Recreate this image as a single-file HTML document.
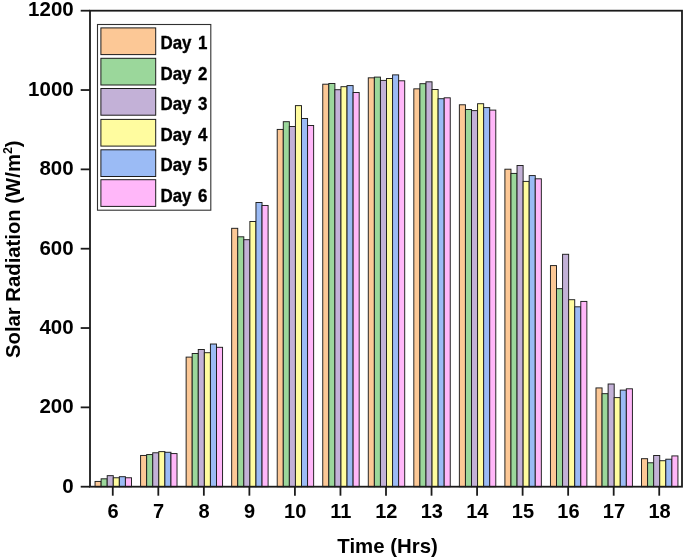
<!DOCTYPE html>
<html><head><meta charset="utf-8"><title>Solar Radiation</title>
<style>html,body{margin:0;padding:0;background:#fff}svg{display:block}text{font-family:"Liberation Sans",Arial,sans-serif;font-weight:bold;fill:#000}</style></head><body>
<svg width="685" height="559" viewBox="0 0 685 559">
<rect width="685" height="559" fill="#fff"/>
<g stroke="#1c1c1c" stroke-width="0.95">
<rect x="95.05" y="481.42" width="6.07" height="5.28" fill="#FCC896"/>
<rect x="101.13" y="478.81" width="6.07" height="7.89" fill="#9BD79B"/>
<rect x="107.20" y="475.67" width="6.07" height="11.03" fill="#C3B1D7"/>
<rect x="113.27" y="477.77" width="6.07" height="8.93" fill="#FFFC9F"/>
<rect x="119.34" y="476.70" width="6.07" height="10.00" fill="#9BBBF5"/>
<rect x="125.41" y="477.77" width="6.07" height="8.93" fill="#FFB7F9"/>
<rect x="140.59" y="455.44" width="6.07" height="31.26" fill="#FCC896"/>
<rect x="146.66" y="454.57" width="6.07" height="32.13" fill="#9BD79B"/>
<rect x="152.74" y="452.78" width="6.07" height="33.92" fill="#C3B1D7"/>
<rect x="158.81" y="451.63" width="6.07" height="35.07" fill="#FFFC9F"/>
<rect x="164.88" y="452.27" width="6.07" height="34.43" fill="#9BBBF5"/>
<rect x="170.95" y="453.58" width="6.07" height="33.12" fill="#FFB7F9"/>
<rect x="186.13" y="357.11" width="6.07" height="129.59" fill="#FCC896"/>
<rect x="192.20" y="353.50" width="6.07" height="133.20" fill="#9BD79B"/>
<rect x="198.27" y="349.49" width="6.07" height="137.21" fill="#C3B1D7"/>
<rect x="204.35" y="352.71" width="6.07" height="133.99" fill="#FFFC9F"/>
<rect x="210.42" y="344.02" width="6.07" height="142.68" fill="#9BBBF5"/>
<rect x="216.49" y="347.31" width="6.07" height="139.39" fill="#FFB7F9"/>
<rect x="231.67" y="228.31" width="6.07" height="258.39" fill="#FCC896"/>
<rect x="237.74" y="236.80" width="6.07" height="249.90" fill="#9BD79B"/>
<rect x="243.81" y="239.70" width="6.07" height="247.00" fill="#C3B1D7"/>
<rect x="249.88" y="221.49" width="6.07" height="265.21" fill="#FFFC9F"/>
<rect x="255.96" y="202.49" width="6.07" height="284.21" fill="#9BBBF5"/>
<rect x="262.03" y="205.46" width="6.07" height="281.24" fill="#FFB7F9"/>
<rect x="277.21" y="129.42" width="6.07" height="357.28" fill="#FCC896"/>
<rect x="283.28" y="121.69" width="6.07" height="365.01" fill="#9BD79B"/>
<rect x="289.35" y="126.53" width="6.07" height="360.17" fill="#C3B1D7"/>
<rect x="295.42" y="105.62" width="6.07" height="381.08" fill="#FFFC9F"/>
<rect x="301.49" y="118.51" width="6.07" height="368.19" fill="#9BBBF5"/>
<rect x="307.57" y="125.50" width="6.07" height="361.20" fill="#FFB7F9"/>
<rect x="322.75" y="84.20" width="6.07" height="402.50" fill="#FCC896"/>
<rect x="328.82" y="83.49" width="6.07" height="403.21" fill="#9BD79B"/>
<rect x="334.89" y="89.72" width="6.07" height="396.98" fill="#C3B1D7"/>
<rect x="340.96" y="86.70" width="6.07" height="400.00" fill="#FFFC9F"/>
<rect x="347.03" y="85.59" width="6.07" height="401.11" fill="#9BBBF5"/>
<rect x="353.11" y="92.49" width="6.07" height="394.21" fill="#FFB7F9"/>
<rect x="368.28" y="77.82" width="6.07" height="408.88" fill="#FCC896"/>
<rect x="374.36" y="77.10" width="6.07" height="409.60" fill="#9BD79B"/>
<rect x="380.43" y="80.39" width="6.07" height="406.31" fill="#C3B1D7"/>
<rect x="386.50" y="78.53" width="6.07" height="408.17" fill="#FFFC9F"/>
<rect x="392.57" y="74.88" width="6.07" height="411.82" fill="#9BBBF5"/>
<rect x="398.64" y="80.79" width="6.07" height="405.91" fill="#FFB7F9"/>
<rect x="413.82" y="88.84" width="6.07" height="397.86" fill="#FCC896"/>
<rect x="419.89" y="83.69" width="6.07" height="403.01" fill="#9BD79B"/>
<rect x="425.97" y="81.82" width="6.07" height="404.88" fill="#C3B1D7"/>
<rect x="432.04" y="89.52" width="6.07" height="397.18" fill="#FFFC9F"/>
<rect x="438.11" y="98.72" width="6.07" height="387.98" fill="#9BBBF5"/>
<rect x="444.18" y="97.81" width="6.07" height="388.89" fill="#FFB7F9"/>
<rect x="459.36" y="104.79" width="6.07" height="381.91" fill="#FCC896"/>
<rect x="465.43" y="109.51" width="6.07" height="377.19" fill="#9BD79B"/>
<rect x="471.51" y="110.62" width="6.07" height="376.08" fill="#C3B1D7"/>
<rect x="477.58" y="103.72" width="6.07" height="382.98" fill="#FFFC9F"/>
<rect x="483.65" y="107.61" width="6.07" height="379.09" fill="#9BBBF5"/>
<rect x="489.72" y="110.10" width="6.07" height="376.60" fill="#FFB7F9"/>
<rect x="504.90" y="169.21" width="6.07" height="317.49" fill="#FCC896"/>
<rect x="510.97" y="173.41" width="6.07" height="313.29" fill="#9BD79B"/>
<rect x="517.04" y="165.52" width="6.07" height="321.18" fill="#C3B1D7"/>
<rect x="523.12" y="181.39" width="6.07" height="305.31" fill="#FFFC9F"/>
<rect x="529.19" y="175.59" width="6.07" height="311.11" fill="#9BBBF5"/>
<rect x="535.26" y="178.81" width="6.07" height="307.89" fill="#FFB7F9"/>
<rect x="550.44" y="265.60" width="6.07" height="221.10" fill="#FCC896"/>
<rect x="556.51" y="288.68" width="6.07" height="198.02" fill="#9BD79B"/>
<rect x="562.58" y="254.29" width="6.07" height="232.41" fill="#C3B1D7"/>
<rect x="568.65" y="299.71" width="6.07" height="186.99" fill="#FFFC9F"/>
<rect x="574.73" y="306.81" width="6.07" height="179.89" fill="#9BBBF5"/>
<rect x="580.80" y="301.42" width="6.07" height="185.28" fill="#FFB7F9"/>
<rect x="595.98" y="387.93" width="6.07" height="98.77" fill="#FCC896"/>
<rect x="602.05" y="393.68" width="6.07" height="93.02" fill="#9BD79B"/>
<rect x="608.12" y="384.00" width="6.07" height="102.70" fill="#C3B1D7"/>
<rect x="614.19" y="397.61" width="6.07" height="89.09" fill="#FFFC9F"/>
<rect x="620.26" y="390.11" width="6.07" height="96.59" fill="#9BBBF5"/>
<rect x="626.34" y="388.80" width="6.07" height="97.90" fill="#FFB7F9"/>
<rect x="641.52" y="458.70" width="6.07" height="28.00" fill="#FCC896"/>
<rect x="647.59" y="462.78" width="6.07" height="23.92" fill="#9BD79B"/>
<rect x="653.66" y="455.48" width="6.07" height="31.22" fill="#C3B1D7"/>
<rect x="659.73" y="460.72" width="6.07" height="25.98" fill="#FFFC9F"/>
<rect x="665.80" y="459.21" width="6.07" height="27.49" fill="#9BBBF5"/>
<rect x="671.87" y="455.92" width="6.07" height="30.78" fill="#FFB7F9"/>
</g>
<g stroke="#1a1a1a" stroke-width="1.8" fill="none" stroke-linecap="butt">
<rect x="90.0" y="10.7" width="592.0" height="476.0"/>
<line x1="80.7" y1="486.70" x2="90.0" y2="486.70"/>
<line x1="80.7" y1="407.37" x2="90.0" y2="407.37"/>
<line x1="80.7" y1="328.03" x2="90.0" y2="328.03"/>
<line x1="80.7" y1="248.70" x2="90.0" y2="248.70"/>
<line x1="80.7" y1="169.37" x2="90.0" y2="169.37"/>
<line x1="80.7" y1="90.03" x2="90.0" y2="90.03"/>
<line x1="80.7" y1="10.70" x2="90.0" y2="10.70"/>
<line x1="112.77" y1="486.7" x2="112.77" y2="495.7"/>
<line x1="158.31" y1="486.7" x2="158.31" y2="495.7"/>
<line x1="203.85" y1="486.7" x2="203.85" y2="495.7"/>
<line x1="249.38" y1="486.7" x2="249.38" y2="495.7"/>
<line x1="294.92" y1="486.7" x2="294.92" y2="495.7"/>
<line x1="340.46" y1="486.7" x2="340.46" y2="495.7"/>
<line x1="386.00" y1="486.7" x2="386.00" y2="495.7"/>
<line x1="431.54" y1="486.7" x2="431.54" y2="495.7"/>
<line x1="477.08" y1="486.7" x2="477.08" y2="495.7"/>
<line x1="522.62" y1="486.7" x2="522.62" y2="495.7"/>
<line x1="568.15" y1="486.7" x2="568.15" y2="495.7"/>
<line x1="613.69" y1="486.7" x2="613.69" y2="495.7"/>
<line x1="659.23" y1="486.7" x2="659.23" y2="495.7"/>
</g>
<text x="73.7" y="492.80" font-size="20.5" text-anchor="end">0</text>
<text x="73.7" y="413.47" font-size="20.5" text-anchor="end">200</text>
<text x="73.7" y="334.13" font-size="20.5" text-anchor="end">400</text>
<text x="73.7" y="254.80" font-size="20.5" text-anchor="end">600</text>
<text x="73.7" y="175.47" font-size="20.5" text-anchor="end">800</text>
<text x="73.7" y="96.13" font-size="20.5" text-anchor="end">1000</text>
<text x="73.7" y="15.90" font-size="20.5" text-anchor="end">1200</text>
<text x="113.07" y="518.4" font-size="20" text-anchor="middle">6</text>
<text x="158.61" y="518.4" font-size="20" text-anchor="middle">7</text>
<text x="204.15" y="518.4" font-size="20" text-anchor="middle">8</text>
<text x="249.68" y="518.4" font-size="20" text-anchor="middle">9</text>
<text x="295.22" y="518.4" font-size="20" text-anchor="middle">10</text>
<text x="340.76" y="518.4" font-size="20" text-anchor="middle">11</text>
<text x="386.30" y="518.4" font-size="20" text-anchor="middle">12</text>
<text x="431.84" y="518.4" font-size="20" text-anchor="middle">13</text>
<text x="477.38" y="518.4" font-size="20" text-anchor="middle">14</text>
<text x="522.92" y="518.4" font-size="20" text-anchor="middle">15</text>
<text x="568.45" y="518.4" font-size="20" text-anchor="middle">16</text>
<text x="613.99" y="518.4" font-size="20" text-anchor="middle">17</text>
<text x="659.53" y="518.4" font-size="20" text-anchor="middle">18</text>
<text x="387.6" y="552.8" font-size="20.4" text-anchor="middle">Time (Hrs)</text>
<text transform="translate(19.6,249.2) rotate(-90)" font-size="20.3" text-anchor="middle">Solar Radiation (W/m<tspan font-size="12.5" dy="-7.5">2</tspan><tspan dy="7.5">)</tspan></text>
<rect x="97.5" y="24.5" width="113.3" height="185.7" fill="#fff" stroke="#303030" stroke-width="1.1"/>
<rect x="100.9" y="27.90" width="54.8" height="26.7" fill="#FCC896" stroke="#1c1c1c" stroke-width="1"/>
<text transform="translate(160.5,49.10) scale(0.945,1)" font-size="17.9" stroke="#000" stroke-width="0.35" style="word-spacing:1.9px">Day 1</text>
<rect x="100.9" y="58.30" width="54.8" height="26.7" fill="#9BD79B" stroke="#1c1c1c" stroke-width="1"/>
<text transform="translate(160.5,79.62) scale(0.945,1)" font-size="17.9" stroke="#000" stroke-width="0.35" style="word-spacing:1.9px">Day 2</text>
<rect x="100.9" y="88.50" width="54.8" height="26.7" fill="#C3B1D7" stroke="#1c1c1c" stroke-width="1"/>
<text transform="translate(160.5,110.14) scale(0.945,1)" font-size="17.9" stroke="#000" stroke-width="0.35" style="word-spacing:1.9px">Day 3</text>
<rect x="100.9" y="119.40" width="54.8" height="26.7" fill="#FFFC9F" stroke="#1c1c1c" stroke-width="1"/>
<text transform="translate(160.5,140.66) scale(0.945,1)" font-size="17.9" stroke="#000" stroke-width="0.35" style="word-spacing:1.9px">Day 4</text>
<rect x="100.9" y="149.80" width="54.8" height="26.7" fill="#9BBBF5" stroke="#1c1c1c" stroke-width="1"/>
<text transform="translate(160.5,171.18) scale(0.945,1)" font-size="17.9" stroke="#000" stroke-width="0.35" style="word-spacing:1.9px">Day 5</text>
<rect x="100.9" y="179.70" width="54.8" height="26.7" fill="#FFB7F9" stroke="#1c1c1c" stroke-width="1"/>
<text transform="translate(160.5,201.70) scale(0.945,1)" font-size="17.9" stroke="#000" stroke-width="0.35" style="word-spacing:1.9px">Day 6</text>
</svg></body></html>
